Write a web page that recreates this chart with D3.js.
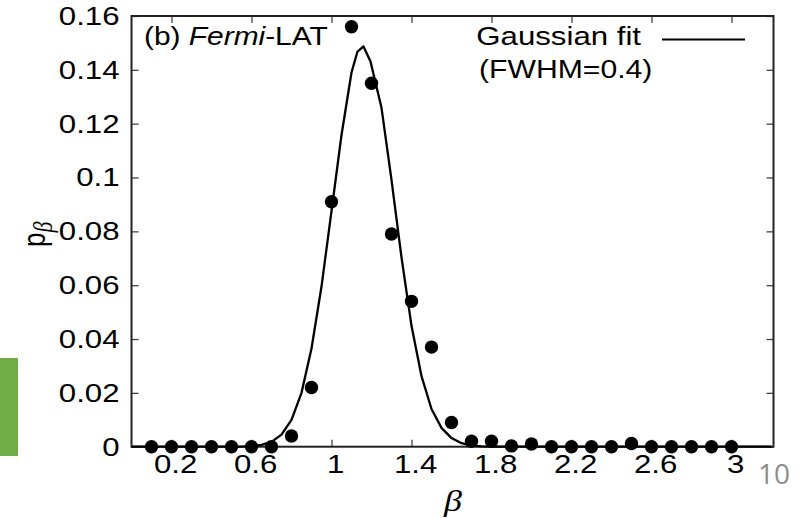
<!DOCTYPE html>
<html>
<head>
<meta charset="utf-8">
<script src="https://cdn.jsdelivr.net/npm/d3@7/dist/d3.min.js"></script>
<style>
  body { margin: 0; background: #fff; }
  text { font-family: "Liberation Sans", Arial, sans-serif; }
</style>
</head>
<body>
<div id="chart"></div>
<script>
// histogram of beta (dots)
var betaBins = [0.1, 0.2, 0.3, 0.4, 0.5, 0.6, 0.7, 0.8, 0.9, 1.0,
                1.1, 1.2, 1.3, 1.4, 1.5, 1.6, 1.7, 1.8, 1.9, 2.0,
                2.1, 2.2, 2.3, 2.4, 2.5, 2.6, 2.7, 2.8, 2.9, 3.0];
var pBeta = [0, 0, 0, 0, 0, 0, 0, 0.004, 0.022, 0.091,
             0.156, 0.135, 0.079, 0.054, 0.037, 0.009, 0.002, 0.002, 0.0003, 0.001,
             0, 0, 0, 0, 0.0012, 0, 0, 0, 0, 0];

// gaussian fit curve
var fitBeta = [0, 0.55, 0.6, 0.65, 0.7, 0.75, 0.8, 0.85, 0.9, 0.95, 1.0, 1.05, 1.1, 1.13,
               1.16, 1.195, 1.25, 1.3, 1.35, 1.4, 1.45, 1.5, 1.55, 1.6, 1.65, 1.7, 1.75, 1.8, 3.2];
var fitP = [0, 0, 0.0002, 0.0007, 0.0018, 0.0045, 0.0100, 0.0200, 0.0365, 0.0595, 0.0875, 0.1158, 0.1390, 0.1468,
            0.1487, 0.1431, 0.1259, 0.0991, 0.0703, 0.0449, 0.0262, 0.0140, 0.0070, 0.0032, 0.0013, 0.0004, 0.0001, 0, 0];

var xTicks = [0.2, 0.6, 1, 1.4, 1.8, 2.2, 2.6, 3];
var xTickLabels = ["0.2", "0.6", "1", "1.4", "1.8", "2.2", "2.6", "3"];
var yTicks = [0, 0.02, 0.04, 0.06, 0.08, 0.1, 0.12, 0.14, 0.16];
var yTickLabels = ["0", "0.02", "0.04", "0.06", "0.08", "0.1", "0.12", "0.14", "0.16"];

var W = 807, H = 518;
var margin = {top: 16, left: 131.5},
    width = 642,
    height = 430.7;
var stretch = "scale(1.2,1)";   // text in the picture is wider than tall

var svg = d3.select("#chart").append("svg")
    .attr("width", W)
    .attr("height", H);

// green slide decoration at the left
svg.append("rect")
    .attr("x", 0).attr("y", 358)
    .attr("width", 18).attr("height", 98)
    .attr("fill", "#70ad47");

// slide number
svg.append("text")
    .attr("x", 758).attr("y", 484)
    .style("font-family", "'Open Sans', sans-serif")
    .style("font-size", "28px")
    .attr("fill", "#8c8c8c")
    .text("10");

var g = svg.append("g")
    .attr("transform", "translate(" + margin.left + "," + margin.top + ")");

var x = d3.scaleLinear().domain([0, 3.21]).range([0, width]);
var y = d3.scaleLinear().domain([0, 0.16]).range([height, 0]);

// axes, ticks pointing inward
var xAxis = d3.axisBottom(x).tickValues(xTicks)
    .tickFormat(function(d, i) { return xTickLabels[i]; })
    .tickSizeInner(-7).tickSizeOuter(0).tickPadding(8);
var yAxis = d3.axisLeft(y).tickValues(yTicks)
    .tickFormat(function(d, i) { return yTickLabels[i]; })
    .tickSizeInner(-7).tickSizeOuter(0).tickPadding(10);

var gx = g.append("g")
    .attr("transform", "translate(0," + height + ")")
    .call(xAxis);
gx.selectAll("text").attr("x", 3).attr("transform", stretch);

var gy = g.append("g").call(yAxis);
gy.selectAll("text").attr("transform", stretch);

// mirrored ticks on top and right
g.append("g").call(d3.axisTop(x).tickValues(xTicks).tickSizeInner(-7).tickSizeOuter(0).tickFormat(""));
g.append("g").attr("transform", "translate(" + width + ",0)")
    .call(d3.axisRight(y).tickValues(yTicks).tickSizeInner(-7).tickSizeOuter(0).tickFormat(""));

g.selectAll(".domain").remove();
g.selectAll(".tick line").attr("stroke", "#444").attr("stroke-width", 1.3);
g.selectAll(".tick text")
    .style("font-size", "26px")
    .style("font-family", "'Liberation Sans', Arial, sans-serif")
    .attr("fill", "#000");

// frame
g.append("rect")
    .attr("width", width).attr("height", height)
    .attr("fill", "none")
    .attr("stroke", "#222")
    .attr("stroke-width", 2);

// fit line
var fit = fitBeta.map(function(b, i) { return [b, fitP[i]]; });
var line = d3.line()
    .x(function(d) { return x(d[0]); })
    .y(function(d) { return y(d[1]); });

g.append("path")
    .datum(fit)
    .attr("d", line)
    .attr("fill", "none")
    .attr("stroke", "#000")
    .attr("stroke-width", 2.3)
    .attr("stroke-linejoin", "round");

// data points
g.selectAll("circle.pt")
    .data(betaBins)
  .enter().append("circle")
    .attr("class", "pt")
    .attr("cx", function(d) { return x(d); })
    .attr("cy", function(d, i) { return y(pBeta[i]); })
    .attr("r", 6.7)
    .attr("fill", "#000");

// panel label
var lab = svg.append("text")
    .attr("transform", "translate(144,45) scale(1.15,1)")
    .style("font-size", "26px");
lab.append("tspan").text("(b) ");
lab.append("tspan").style("font-style", "italic").text("Fermi");
lab.append("tspan").text("-LAT");

// key
svg.append("text")
    .attr("transform", "translate(641,45) " + stretch)
    .attr("text-anchor", "end")
    .style("font-size", "26px")
    .text("Gaussian fit");
svg.append("line")
    .attr("x1", 662).attr("x2", 745)
    .attr("y1", 39.5).attr("y2", 39.5)
    .attr("stroke", "#000").attr("stroke-width", 2);
svg.append("text")
    .attr("transform", "translate(479,78) scale(1.16,1)")
    .style("font-size", "26px")
    .text("(FWHM=0.4)");

// axis titles
svg.append("text")
    .attr("transform", "translate(453,511) " + stretch)
    .attr("text-anchor", "middle")
    .style("font-family", "'Liberation Serif', 'Times New Roman', serif")
    .style("font-style", "italic")
    .style("font-size", "30px")
    .text("β");

var yl = svg.append("text")
    .attr("transform", "translate(45,247) " + stretch + " rotate(-90)")
    .style("font-size", "26px");
yl.append("tspan").text("p");
yl.append("tspan")
    .attr("dy", 6)
    .style("font-family", "'Liberation Serif', 'Times New Roman', serif")
    .style("font-style", "italic")
    .style("font-size", "22px")
    .text("β");
</script>
</body>
</html>
